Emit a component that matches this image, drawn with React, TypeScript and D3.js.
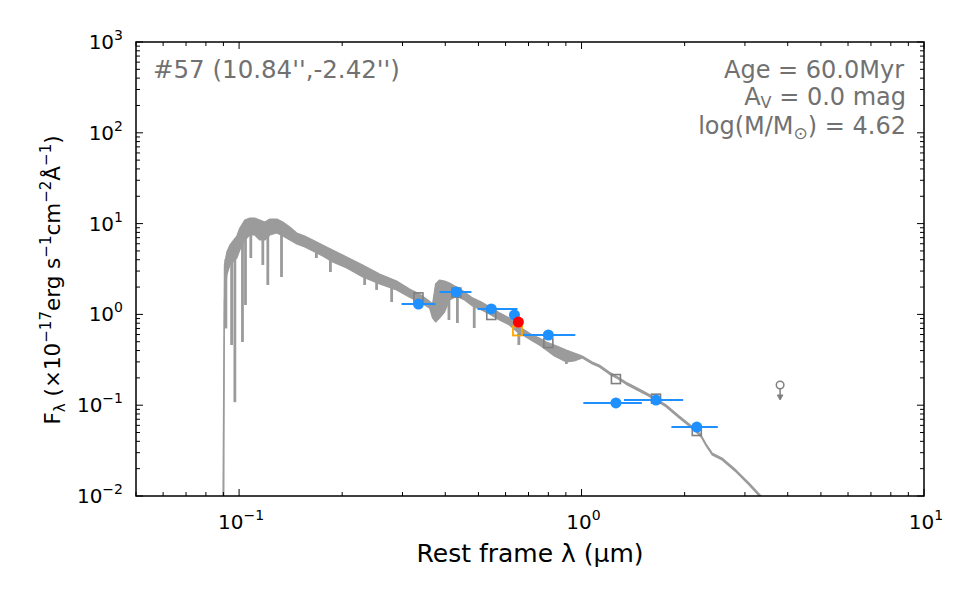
import React from 'react';
import * as d3 from 'd3';

const W = 975;
const H = 603;
const M = { left: 136, right: 924, top: 42, bottom: 496 };

// Model spectrum envelope: wavelength (µm), upper and lower flux of the band
const specWave = [0.0894, 0.0901, 0.0906, 0.0921, 0.094, 0.0959, 0.0985, 0.1005, 0.1039, 0.1075, 0.1111, 0.1149, 0.1189, 0.123, 0.1289, 0.1342, 0.1406, 0.1474, 0.1555, 0.1641, 0.1754, 0.1876, 0.2062, 0.2296, 0.2573, 0.2884, 0.3146, 0.3365, 0.3598, 0.3672, 0.3747, 0.3849, 0.3981, 0.4117, 0.4314, 0.4553, 0.4803, 0.5101, 0.5384, 0.5756, 0.6158, 0.6497, 0.6808, 0.7186, 0.753, 0.7893, 0.8329, 0.9028, 0.9526, 1.005, 1.075, 1.127, 1.205, 1.263, 1.36, 1.474, 1.608, 1.767, 1.928, 2.062, 2.161, 2.234, 2.311, 2.406, 2.572, 2.827, 3.084, 3.343, 3.648];
const specTop = [0.001, 0.114, 3.5, 4.87, 5.81, 6.43, 7.3, 8.95, 10.96, 11.53, 11.53, 10.96, 10.42, 11.24, 11.24, 10.42, 9.18, 7.88, 7.3, 6.6, 5.81, 5.12, 4.29, 3.5, 2.79, 2.33, 1.9, 1.68, 1.4, 1.3, 2.16, 2.39, 2.33, 2.22, 2.0, 1.76, 1.52, 1.37, 1.21, 1.04, 0.913, 0.745, 0.673, 0.593, 0.55, 0.497, 0.46, 0.406, 0.376, 0.348, 0.299, 0.277, 0.232, 0.21, 0.176, 0.151, 0.126, 0.1005, 0.076, 0.0621, 0.0533, 0.047, 0.0374, 0.0298, 0.0262, 0.0193, 0.0139, 0.01, 0.00701];
const specBottom = [0.001, 0.001, 1.44, 2.72, 3.5, 3.78, 4.18, 5.12, 6.6, 7.49, 7.49, 6.6, 6.6, 7.49, 7.88, 7.3, 6.6, 5.96, 5.52, 4.99, 4.4, 3.78, 3.24, 2.58, 2.16, 1.86, 1.55, 1.37, 1.18, 0.913, 0.825, 0.913, 1.06, 1.44, 1.59, 1.44, 1.24, 1.12, 1.01, 0.868, 0.764, 0.64, 0.578, 0.51, 0.46, 0.406, 0.348, 0.299, 0.307, 0.331, 0.284, 0.263, 0.22, 0.2, 0.167, 0.143, 0.12, 0.0955, 0.0722, 0.059, 0.0506, 0.0447, 0.0355, 0.0283, 0.0249, 0.0183, 0.0132, 0.0095, 0.00666];

// Strong absorption features: wavelength (µm) and flux at the line core
const lineWave = [0.0915, 0.0951, 0.0972, 0.1023, 0.1044, 0.1082, 0.1173, 0.1213, 0.133, 0.1682, 0.1848, 0.2326, 0.2521, 0.2789, 0.3365, 0.410, 0.434, 0.486, 0.656, 0.844, 0.903];
const lineDepth = [0.7, 0.46, 0.108, 0.497, 1.27, 4.18, 3.5, 2.11, 2.58, 4.18, 2.93, 2.11, 1.86, 1.37, 1.21, 0.868, 0.804, 0.708, 0.46, 0.357, 0.284];

// Observed photometry (flux, filter wavelength range)
const photWave = [0.334, 0.431, 0.545, 0.637, 0.8, 1.26, 1.65, 2.17];
const photFlux = [1.3, 1.77, 1.15, 0.985, 0.593, 0.106, 0.114, 0.0575];
const photLo = [0.298, 0.385, 0.497, 0.632, 0.65, 1.012, 1.33, 1.83];
const photHi = [0.375, 0.477, 0.65, 0.642, 0.959, 1.5, 1.98, 2.5];

// Model fluxes integrated over the filters
const modelWave = [0.334, 0.431, 0.545, 0.8, 1.26, 1.65, 2.17];
const modelFlux = [1.54, 1.74, 0.985, 0.484, 0.194, 0.118, 0.052];

// Narrow-band (Hα) measurement and its model value
const haWave = [0.654];
const haFlux = [0.824];
const haModelWave = [0.65];
const haModelFlux = [0.657];

// Upper limit
const limWave = [3.8];
const limFlux = [0.167];

const xMajor = [0.1, 1, 10];
const xMajorExp = ['−1', '0', '1'];
const yMajor = [0.01, 0.1, 1, 10, 100, 1000];
const yMajorExp = ['−2', '−1', '0', '1', '2', '3'];

const FONT = 'DejaVu Sans';
const GRAY = '#9b9b9b';
const BLUE = '#1e90ff';
const TXT = '#717171';

export default function App() {
  const x = d3.scaleLog().domain([0.05, 10]).range([M.left, M.right]);
  const y = d3.scaleLog().domain([0.01, 1000]).range([M.bottom, M.top]);

  const idx = d3.range(specWave.length);
  const areaPath =
    d3
      .area<number>()
      .x((i) => x(specWave[i]))
      .y0((i) => y(specBottom[i]))
      .y1((i) => y(specTop[i]))(idx) || '';
  const topLine = d3.line<number>().x((i) => x(specWave[i])).y((i) => y(specTop[i]))(idx) || '';
  const botLine = d3.line<number>().x((i) => x(specWave[i])).y((i) => y(specBottom[i]))(idx) || '';

  const topAt = d3
    .scaleLinear()
    .domain(specWave.map((w) => x(w)))
    .range(specTop.map((f) => y(f)));

  const xMinor: number[] = [];
  [0.01, 0.1, 1].forEach((d) => {
    for (let k = 2; k <= 9; k++) {
      const v = d * k;
      if (v >= 0.05 && v <= 10) xMinor.push(v);
    }
  });
  const yMinor: number[] = [];
  [0.01, 0.1, 1, 10, 100].forEach((d) => {
    for (let k = 2; k <= 9; k++) yMinor.push(d * k);
  });

  const majLen = 7;
  const minLen = 4;

  return (
    <div style={{ position: 'absolute', left: 0, top: 0 }}>
      <svg width={W} height={H} style={{ display: 'block', background: '#fff' }} fontFamily={FONT}>
        <defs>
          <clipPath id="plotClip">
            <rect x={M.left} y={M.top} width={M.right - M.left} height={M.bottom - M.top} />
          </clipPath>
        </defs>

        <g clipPath="url(#plotClip)">
          {/* model spectrum */}
          <path d={areaPath} fill={GRAY} stroke="none" />
          <path d={topLine} fill="none" stroke={GRAY} strokeWidth={1.2} strokeLinejoin="round" />
          <path d={botLine} fill="none" stroke={GRAY} strokeWidth={1.2} strokeLinejoin="round" />
          {lineWave.map((w, i) => (
            <line
              key={'ab' + i}
              x1={x(w)}
              x2={x(w)}
              y1={topAt(x(w)) + 2}
              y2={y(lineDepth[i])}
              stroke={GRAY}
              strokeWidth={2.8}
            />
          ))}

          {/* filter widths */}
          {photWave.map((w, i) => (
            <line
              key={'eb' + i}
              x1={x(photLo[i])}
              x2={x(photHi[i])}
              y1={y(photFlux[i])}
              y2={y(photFlux[i])}
              stroke={BLUE}
              strokeWidth={2}
            />
          ))}

          {/* model photometry */}
          {modelWave.map((w, i) => (
            <rect
              key={'ms' + i}
              x={x(w) - 4.5}
              y={y(modelFlux[i]) - 4.5}
              width={9}
              height={9}
              fill="none"
              stroke="#7f7f7f"
              strokeWidth={1.6}
            />
          ))}

          {/* observed photometry */}
          {photWave.map((w, i) => (
            <circle key={'pt' + i} cx={x(w)} cy={y(photFlux[i])} r={5.5} fill={BLUE} />
          ))}

          {haModelWave.map((w, i) => (
            <rect
              key={'hm' + i}
              x={x(w) - 4.5}
              y={y(haModelFlux[i]) - 4.5}
              width={9}
              height={9}
              fill="none"
              stroke="#ffa500"
              strokeWidth={1.8}
            />
          ))}
          {haWave.map((w, i) => (
            <circle key={'ha' + i} cx={x(w)} cy={y(haFlux[i])} r={5.5} fill="#ff0000" />
          ))}

          {/* upper limit */}
          {limWave.map((w, i) => {
            const cx = x(w);
            const cy = y(limFlux[i]);
            return (
              <g key={'ul' + i} stroke="#808080" strokeWidth={1.5} fill="none">
                <circle cx={cx} cy={cy} r={3.8} />
                <line x1={cx} x2={cx} y1={cy + 3.8} y2={cy + 14} />
                <path d={`M${cx - 2.8},${cy + 10} L${cx},${cy + 15} L${cx + 2.8},${cy + 10} Z`} fill="#808080" strokeWidth={1} />
              </g>
            );
          })}
        </g>

        {/* ticks (inward, all four sides) */}
        <g stroke="#000" strokeWidth={1}>
          {xMajor.map((v) => (
            <g key={'xM' + v}>
              <line x1={x(v)} x2={x(v)} y1={M.bottom} y2={M.bottom - majLen} />
              <line x1={x(v)} x2={x(v)} y1={M.top} y2={M.top + majLen} />
            </g>
          ))}
          {xMinor.map((v) => (
            <g key={'xm' + v}>
              <line x1={x(v)} x2={x(v)} y1={M.bottom} y2={M.bottom - minLen} />
              <line x1={x(v)} x2={x(v)} y1={M.top} y2={M.top + minLen} />
            </g>
          ))}
          {yMajor.map((v) => (
            <g key={'yM' + v}>
              <line x1={M.left} x2={M.left + majLen} y1={y(v)} y2={y(v)} />
              <line x1={M.right} x2={M.right - majLen} y1={y(v)} y2={y(v)} />
            </g>
          ))}
          {yMinor.map((v) => (
            <g key={'ym' + v}>
              <line x1={M.left} x2={M.left + minLen} y1={y(v)} y2={y(v)} />
              <line x1={M.right} x2={M.right - minLen} y1={y(v)} y2={y(v)} />
            </g>
          ))}
        </g>

        {/* frame */}
        <rect
          x={M.left}
          y={M.top}
          width={M.right - M.left}
          height={M.bottom - M.top}
          fill="none"
          stroke="#000"
          strokeWidth={1.5}
        />

        {/* tick labels */}
        {xMajor.map((v, i) => (
          <text key={'xl' + v} x={x(v) + 2} y={529} textAnchor="middle" fontSize={20} fill="#000">
            10
            <tspan dy={-9} fontSize={14}>
              {xMajorExp[i]}
            </tspan>
          </text>
        ))}
        {yMajor.map((v, i) => (
          <text key={'yl' + v} x={123} y={y(v) + 7} textAnchor="end" fontSize={20} fill="#000">
            10
            <tspan dy={-9} fontSize={14}>
              {yMajorExp[i]}
            </tspan>
          </text>
        ))}

        {/* axis titles */}
        <text x={530} y={562} textAnchor="middle" fontSize={25} fill="#000">
          Rest frame λ (μm)
        </text>
        <text transform="translate(60,280) rotate(-90)" textAnchor="middle" fontSize={21.5} fill="#000">
          F
          <tspan dy={5} fontSize={15}>λ</tspan>
          <tspan dy={-5}> (×10</tspan>
          <tspan dy={-9} fontSize={15}>−17</tspan>
          <tspan dy={9}>erg s</tspan>
          <tspan dy={-9} fontSize={15}>−1</tspan>
          <tspan dy={9}>cm</tspan>
          <tspan dy={-9} fontSize={15}>−2</tspan>
          <tspan dy={9}>Å</tspan>
          <tspan dy={-9} fontSize={15}>−1</tspan>
          <tspan dy={9}>)</tspan>
        </text>

        {/* annotations */}
        <text x={153} y={78} fontSize={24.5} fill={TXT}>
          #57 (10.84'',-2.42'')
        </text>
        <g fontSize={24} fill={TXT} textAnchor="end">
          <text x={904} y={78}>Age = 60.0Myr</text>
          <text x={906} y={105}>
            A<tspan dy={3} fontSize={16}>V</tspan>
            <tspan dy={-3}> = 0.0 mag</tspan>
          </text>
          <text x={906} y={134}>
            log(M/M<tspan dy={5} fontSize={17}>⊙</tspan>
            <tspan dy={-5}>) = 4.62</tspan>
          </text>
        </g>
      </svg>
    </div>
  );
}
